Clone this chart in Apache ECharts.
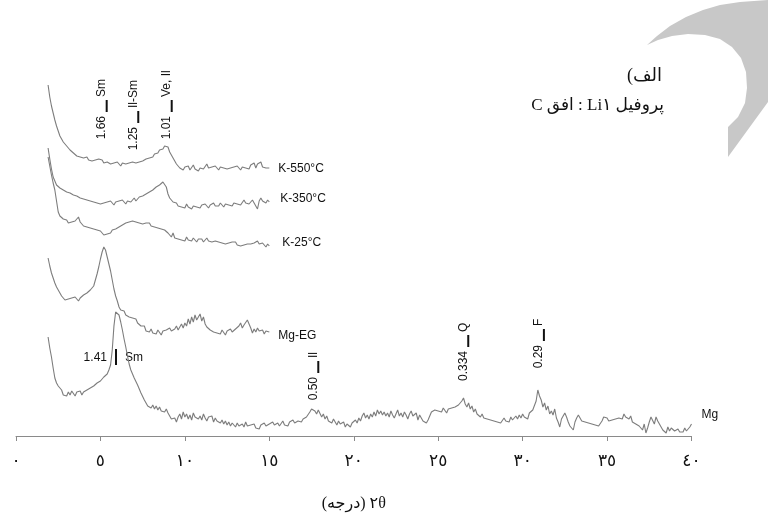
<!DOCTYPE html>
<html>
<head>
<meta charset="utf-8">
<script src="https://cdn.jsdelivr.net/npm/echarts@6/dist/echarts.min.js"></script>
<style>
  html, body { margin: 0; padding: 0; background: #ffffff; }
  #chart { width: 768px; height: 520px; }
</style>
</head>
<body>
<div id="chart"></div>
<script>
// XRD scans: 2θ starts at 1.9° with a 0.1° step; values are relative intensities
// (each trace already carries its own stacking offset).
const scanStart = 1.9;
const scanStep = 0.1;

const k550 = [
  351, 339, 330, 323, 316, 310, 305, 300, 297, 294,
  292, 290, 289, 286, 286, 283, 284, 280, 281, 279,
  280, 278, 277, 279, 276, 278, 275, 277, 276, 274,
  277, 275, 276, 273, 275, 274, 276, 272, 274, 273,
  271, 274, 272, 270, 273, 271, 272, 270, 273, 271,
  274, 272, 273, 271, 274, 273, 275, 274, 277, 276,
  278, 280, 279, 282, 284, 283, 286, 288, 287, 290,
  288, 289, 284, 282, 278, 275, 272, 270, 268, 270,
  266, 269, 267, 270, 266, 268, 271, 267, 269, 265,
  268, 270, 267, 269, 272, 268, 266, 269, 267, 270,
  268, 266, 269, 267, 268, 270, 267, 269, 268, 266,
  269, 267, 270, 268, 266, 269, 271, 268, 270, 267,
  271, 269, 273, 268, 272, 270, 274, 269, 271, 268,
  270, 268
];

const k350 = [
  288, 277, 267, 259, 255, 251, 249, 248, 247, 246,
  247, 244, 246, 243, 244, 241, 242, 240, 241, 238,
  239, 237, 238, 236, 237, 235, 236, 234, 235, 233,
  235, 232, 234, 233, 231, 234, 232, 235, 233, 231,
  234, 232, 235, 233, 236, 234, 232, 235, 237, 234,
  236, 238, 235, 237, 239, 238, 240, 239, 242, 241,
  244, 243, 246, 245, 249, 247, 251, 250, 254, 252,
  249, 242, 238, 236, 234, 232, 233, 230, 232, 229,
  231, 228, 232, 229, 231, 227, 230, 232, 229, 231,
  228, 231, 229, 232, 230, 228, 231, 229, 233, 230,
  232, 230, 233, 231, 229, 232, 234, 231, 233, 230,
  233, 235, 232, 234, 231, 233, 236, 233, 235, 232,
  234, 236, 233, 232, 227, 235, 238, 235, 237, 233,
  236, 234
];

const k25 = [
  279, 270, 261, 253, 246, 235, 224, 220, 218, 217,
  215, 216, 213, 215, 214, 212, 215, 213, 219, 214,
  212, 210, 212, 209, 211, 208, 210, 207, 209, 206,
  208, 205, 203, 201, 203, 202, 204, 203, 206, 205,
  207, 206, 209, 208, 211, 210, 213, 211, 214, 212,
  215, 213, 214, 216, 213, 215, 212, 214, 213, 211,
  213, 210, 212, 209, 211, 208, 210, 207, 205, 206,
  204, 203, 201, 199, 203, 198, 200, 197, 199, 196,
  198, 195, 199, 196, 197, 195, 198, 196, 194, 197,
  195, 197, 194, 196, 198, 195, 197, 194, 196, 195,
  197, 194, 196, 193, 195, 192, 194, 193, 191, 194,
  192, 194, 191, 193, 190, 192, 191, 189, 192, 190,
  192, 190, 193, 191, 195, 192, 190, 193, 191, 189,
  192, 190
];

const mgEG = [
  178, 170, 163, 158, 153, 149, 146, 143, 140, 138,
  136, 134, 137, 135, 138, 136, 139, 137, 135, 138,
  140, 141, 139, 143, 141, 146, 145, 150, 156, 162,
  169, 177, 184, 189, 186, 179, 172, 165, 156, 147,
  140, 135, 129, 126, 124, 125, 121, 123, 119, 121,
  118, 116, 117, 113, 114, 110, 108, 110, 105, 106,
  104, 107, 103, 105, 102, 106, 104, 101, 105, 103,
  106, 104, 108, 105, 103, 107, 110, 106, 109, 112,
  108, 113, 110, 117, 112, 119, 114, 121, 116, 118,
  122, 115, 119, 112, 109, 111, 106, 108, 104, 106,
  103, 105, 102, 106, 104, 101, 105, 103, 107, 104,
  104, 107, 105, 110, 113, 108, 111, 109, 116, 112,
  108, 103, 107, 104, 108, 105, 103, 106, 102, 105,
  103, 104
];

const mg = [
  99, 88, 79, 68, 58, 53, 50, 48, 46, 41,
  43, 40, 44, 41, 45, 43, 40, 44, 42, 45,
  41, 44, 43, 46, 44, 48, 46, 50, 49, 53,
  51, 55, 54, 59, 57, 62, 66, 71, 86, 110,
  124, 126, 121, 114, 106, 97, 89, 80, 72, 66,
  62, 58, 56, 51, 49, 43, 42, 36, 34, 30,
  32, 28, 31, 27, 30, 26, 29, 25, 27, 24,
  27, 23, 20, 17, 15, 18, 14, 19, 22, 17,
  24, 19, 22, 17, 21, 16, 23, 19, 21, 17,
  20, 16, 22, 18, 15, 19, 17, 20, 14, 18,
  15, 17, 13, 16, 12, 15, 11, 14, 10, 13,
  11, 9, 13, 10, 8, 12, 9, 14, 10, 8,
  11, 9, 12, 8, 10, 7, 11, 9, 13, 10,
  8, 12, 10, 14, 11, 9, 13, 10, 12, 15,
  11, 13, 10, 14, 12, 16, 13, 11, 15, 17,
  14, 17, 15, 19, 21, 24, 27, 29, 25, 22,
  26, 24, 19, 22, 17, 20, 15, 16, 13, 17,
  14, 11, 15, 12, 10, 14, 9, 12, 10, 9,
  13, 11, 16, 13, 18, 15, 20, 23, 18, 21,
  17, 22, 19, 24, 20, 26, 22, 25, 21, 24,
  20, 23, 19, 25, 21, 18, 22, 26, 20, 23,
  19, 24, 21, 17, 22, 25, 20, 18, 23, 16,
  21, 18, 15, 17, 13, 16, 20, 24, 22, 26,
  28, 25, 27, 24, 28, 26, 23, 27, 25, 28,
  26, 29, 27, 31, 29, 35, 38, 32, 29, 33,
  27, 30, 24, 27, 22, 20, 19, 22, 18, 20,
  17, 19, 16, 18, 15, 17, 14, 16, 13, 15,
  18, 15, 17, 14, 19, 16, 18, 20, 17, 21,
  18, 22, 19, 21, 17, 23, 21, 26, 24, 35,
  46, 40, 36, 29, 33, 26, 30, 22, 25, 21,
  27, 18, 14, 9, 17, 20, 23, 19, 14, 10,
  8, 6, 14, 18, 21, 19, 15, 17, 14, 16,
  13, 15, 12, 14, 11, 13, 10, 11, 15, 19,
  21, 18, 15, 13, 16, 14, 17, 15, 18, 20,
  17, 22, 19, 21, 17, 20, 14, 16, 12, 14,
  10, 9, 6, 12, 3, 8, 14, 19, 18, 12,
  19, 15, 13, 9, 6, 4, 3, 9, 5, 8,
  8, 5, 3, 7, 4, 6, 4, 8, 5, 7,
  9, 12
];

const traceNames = ['K-550°C', 'K-350°C', 'K-25°C', 'Mg-EG', 'Mg'];
const traceValues = [k550, k350, k25, mgEG, mg];

// x-axis tick labels (Arabic-Indic digits) for 0, 5, ... 40
const tickLabels = ['٠', '٥', '١٠', '١٥', '٢٠', '٢٥', '٣٠', '٣٥', '٤٠'];
// right-to-left embedding keeps the Persian captions in reading order
const axisTitle = '\u202B۲θ (درجه)\u202C';
const panelTitle = '\u202Bالف)\u202C';
const panelSubtitle = '\u202Bپروفیل Li۱ : افق C\u202C';

// Peak annotations: d-spacing (nm), phase, 2θ of the marker and its height.
const peakD = ['1.66', '1.25', '1.01', '1.41', '0.50', '0.334', '0.29'];
const peakPhase = ['Sm', 'Il-Sm', 'Ve, Il', 'Sm', 'Il', 'Q', 'F'];
const peakTheta = [5.37, 7.24, 9.22, 5.92, 17.9, 26.78, 31.26];
const peakLevel = [330, 319, 330, 79, 69, 95, 101];
const peakUpright = [true, true, true, false, true, true, true];

// Pixel nudges for the trace names, relative to each trace's last point.
const nameOffsets = [[9, 1], [11, -3], [13, -3], [9, 4], [10, -9]];

const LINE_GREY = '#7d7d7d';
const TEXT_DARK = '#111111';
const SANS = "'Liberation Sans', Arial, sans-serif";
const SERIF_AR = "'Liberation Serif', 'DejaVu Sans', serif";

// outline of the decorative crescent in the upper-right corner
const crescentOutline = [
  [647, 45], [657, 36], [670, 26], [686, 17], [703, 10], [720, 5], [740, 2], [768, 0],
  [768, 102], [728, 157], [728, 127], [738, 117], [745, 103], [747, 88], [746, 72],
  [741, 58], [732, 47], [720, 39], [705, 35], [688, 34], [672, 36], [658, 40]
];

function toPairs(values) {
  return values.map((v, i) => [Number((scanStart + i * scanStep).toFixed(2)), v]);
}

const chart = echarts.init(document.getElementById('chart'), null, { renderer: 'canvas' });

chart.setOption({
  animation: false,
  backgroundColor: '#ffffff',
  grid: { left: 16, right: 76.5, top: 36, bottom: 84 },
  xAxis: {
    type: 'value',
    min: 0,
    max: 40,
    interval: 5,
    axisLine: { lineStyle: { color: '#8a8a8a', width: 1 } },
    axisTick: { show: true, length: 5, lineStyle: { color: '#8a8a8a' } },
    splitLine: { show: false },
    axisLabel: {
      formatter: (v) => tickLabels[Math.round(v / 5)],
      color: TEXT_DARK,
      fontSize: 17,
      fontFamily: "'DejaVu Sans', sans-serif",
      margin: 17
    },
    name: axisTitle,
    nameLocation: 'middle',
    nameGap: 60,
    nameTextStyle: { color: TEXT_DARK, fontSize: 16, fontFamily: SERIF_AR }
  },
  yAxis: { type: 'value', min: 0, max: 400, show: false },
  series: traceValues.map((vals, i) => ({
    name: traceNames[i],
    type: 'line',
    data: toPairs(vals),
    showSymbol: false,
    symbol: 'none',
    silent: true,
    lineStyle: { color: LINE_GREY, width: 1.1 }
  }))
});

function buildOverlay() {
  const els = [];

  els.push({
    type: 'polygon',
    silent: true,
    z: 0,
    shape: { points: crescentOutline },
    style: { fill: '#c8c8c8' }
  });

  // panel caption
  els.push({
    type: 'text', silent: true, x: 662, y: 76,
    style: { text: panelTitle, fill: TEXT_DARK, font: "18px " + SERIF_AR, align: 'right', verticalAlign: 'middle' }
  });
  els.push({
    type: 'text', silent: true, x: 664, y: 106,
    style: { text: panelSubtitle, fill: TEXT_DARK, font: "17px " + SERIF_AR, align: 'right', verticalAlign: 'middle' }
  });

  // trace names next to the last point of each scan
  traceValues.forEach((vals, i) => {
    const last = toPairs(vals)[vals.length - 1];
    const p = chart.convertToPixel({ gridIndex: 0 }, last);
    els.push({
      type: 'text', silent: true,
      x: p[0] + nameOffsets[i][0], y: p[1] + nameOffsets[i][1],
      style: { text: traceNames[i], fill: TEXT_DARK, font: '12px ' + SANS, align: 'left', verticalAlign: 'middle' }
    });
  });

  // peak markers: d-spacing, a short bar, then the phase name
  peakD.forEach((d, i) => {
    const p = chart.convertToPixel({ gridIndex: 0 }, [peakTheta[i], peakLevel[i]]);
    const font = '12px ' + SANS;
    if (peakUpright[i]) {
      els.push({
        type: 'group', x: p[0], y: p[1], rotation: Math.PI / 2, silent: true,
        children: [
          { type: 'rect', shape: { x: -6, y: -1, width: 12, height: 2 }, style: { fill: TEXT_DARK } },
          { type: 'text', x: -10, y: -5, style: { text: d, fill: TEXT_DARK, font: font, align: 'right', verticalAlign: 'middle' } },
          { type: 'text', x: 9, y: -5, style: { text: peakPhase[i], fill: TEXT_DARK, font: font, align: 'left', verticalAlign: 'middle' } }
        ]
      });
    } else {
      els.push({
        type: 'group', x: p[0], y: p[1], silent: true,
        children: [
          { type: 'rect', shape: { x: -1, y: -8, width: 2, height: 16 }, style: { fill: TEXT_DARK } },
          { type: 'text', x: -9, y: 1, style: { text: d, fill: TEXT_DARK, font: font, align: 'right', verticalAlign: 'middle' } },
          { type: 'text', x: 9, y: 1, style: { text: peakPhase[i], fill: TEXT_DARK, font: font, align: 'left', verticalAlign: 'middle' } }
        ]
      });
    }
  });

  chart.setOption({ graphic: { elements: els } });
}

buildOverlay();
</script>
</body>
</html>
